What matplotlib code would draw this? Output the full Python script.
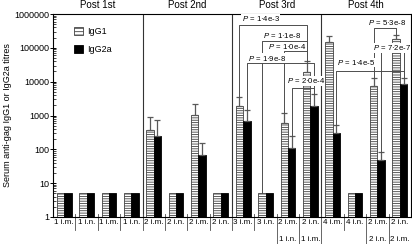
import numpy as np
import matplotlib
matplotlib.use('Agg')
import matplotlib.pyplot as plt
from matplotlib.patches import Patch
from matplotlib.transforms import blended_transform_factory

plt.rcParams['font.family'] = ['Liberation Sans', 'DejaVu Sans']
plt.rcParams['mathtext.fontset'] = 'custom'
plt.rcParams['mathtext.it'] = 'Liberation Sans:italic'
plt.rcParams['mathtext.rm'] = 'Liberation Sans'
plt.rcParams['hatch.linewidth'] = 0.6

# -------------------------------
# Data
# -------------------------------
route_top = ['1 i.m.', '1 i.n.', '1 i.m.', '1 i.n.',
             '2 i.m.', '2 i.n.', '2 i.m.', '2 i.n.',
             '3 i.m.', '3 i.n.', '2 i.m.', '2 i.n.',
             '4 i.m.', '4 i.n.', '2 i.m.', '2 i.n.']
route_bottom = ['', '', '', '', '', '', '', '',
                '', '', '1 i.n.', '1 i.m.', '', '', '2 i.n.', '2 i.m.']
sections = ['Post 1st', 'Post 2nd', 'Post 3rd', 'Post 4th']

igg1 = [5, 5, 5, 5, 375, 5, 1050, 5, 1900, 5, 590, 19500, 147000, 5, 7500, 185000]
igg1_err = [0, 0, 0, 0, 555, 0, 1100, 0, 1600, 0, 580, 22500, 78000, 0, 5100, 55000]
igg2a = [5, 5, 5, 5, 255, 5, 68, 5, 710, 5, 108, 1920, 300, 5, 48, 8600]
igg2a_err = [0, 0, 0, 0, 485, 0, 82, 0, 750, 0, 132, 2440, 230, 0, 34, 4100]

# comparisons: (group a, series a, group b, series b, P label)
comparisons = [
    (8, 'IgG1', 11, 'IgG1', '1·4e-3'),
    (9, 'IgG1', 11, 'IgG1', '1·1e-8'),
    (10, 'IgG1', 11, 'IgG1', '1·0e-4'),
    (8, 'IgG2a', 11, 'IgG2a', '1·9e-8'),
    (10, 'IgG2a', 11, 'IgG2a', '2·0e-4'),
    (14, 'IgG1', 15, 'IgG1', '5·3e-8'),
    (14, 'IgG2a', 15, 'IgG2a', '7·2e-7'),
    (12, 'IgG2a', 15, 'IgG2a', '1·4e-5'),
]
# bracket layout: (line level, text x, text level)
bracket_pos = [
    (4.8e5, 7.94, 7.2e5),
    (1.6e5, 8.88, 2.3e5),
    (8.1e4, 9.10, 1.1e5),
    (3.5e4, 8.20, 4.9e4),
    (6.6e3, 9.95, 1.05e4),
    (3.8e5, 13.56, 5.5e5),
    (7.6e4, 13.80, 1.0e5),
    (2.1e4, 12.18, 3.7e4),
]

# -------------------------------
# Figure
# -------------------------------
fig = plt.figure(figsize=(4.12, 2.44), dpi=100)
ax = fig.add_axes([53 / 412, 27 / 244, 358 / 412, 203 / 244])

n = len(igg1)
x = np.arange(n)
w = 0.33
off = {'IgG1': -w / 2, 'IgG2a': w / 2}
vals = {'IgG1': np.array(igg1), 'IgG2a': np.array(igg2a)}
errs = {'IgG1': np.array(igg1_err), 'IgG2a': np.array(igg2a_err)}

ax.bar(x + off['IgG1'], igg1, w, color='white', edgecolor='0.25',
       hatch='-------', linewidth=0.6, zorder=2)
ax.bar(x + off['IgG2a'], igg2a, w, color='black', edgecolor='black',
       linewidth=0.6, zorder=2)

for key in ['IgG1', 'IgG2a']:
    m = errs[key] > 0
    e = errs[key][m]
    ax.errorbar(x[m] + off[key], vals[key][m], yerr=[np.zeros_like(e), e],
                fmt='none', ecolor='0.35', elinewidth=0.9, capsize=2.5,
                capthick=0.9, zorder=3)

# significance brackets
for (ga, sa, gb, sb, p), (lvl, tx, ty) in zip(comparisons, bracket_pos):
    xa = ga + off[sa]
    xb = gb + off[sb]
    ya = vals[sa][ga] + errs[sa][ga]
    yb = vals[sb][gb] + errs[sb][gb]
    ax.plot([xa, xa, xb, xb], [ya, lvl, lvl, yb], color='0.3', lw=0.7,
            zorder=4)
    ax.text(tx, ty, '$P$ = ' + p, fontsize=5.6, ha='left', va='center',
            zorder=6, bbox=dict(facecolor='white', edgecolor='none', pad=0.3))

ax.set_yscale('log')
ax.set_ylim(1, 1e6)
ax.set_xlim(-0.5, n - 0.5)
ax.set_yticks([1, 10, 100, 1000, 10000, 100000, 1000000])
ax.set_yticklabels(['1', '10', '100', '1000', '10000', '100000', '1000000'])
ax.tick_params(axis='y', which='major', direction='inout', length=4,
               width=0.7, labelsize=6.5, pad=1)
ax.tick_params(axis='y', which='minor', direction='in', length=2, width=0.5)
ax.set_xticks([])
for s in ax.spines.values():
    s.set_linewidth(0.8)

# section dividers and titles
for b in [3.5, 7.5, 11.5]:
    ax.axvline(b, color='0.2', lw=0.8, zorder=1)
trans = blended_transform_factory(ax.transData, ax.transAxes)
for i, name in enumerate(sections):
    ax.text(4 * i + 1.5, 1.045, name, transform=trans, ha='center',
            va='center', fontsize=7)

# route labels under the bars
for i in range(n):
    ax.text(i, -0.027, route_top[i], transform=trans, ha='center',
            va='center', fontsize=5.8)
    if route_bottom[i]:
        ax.text(i, -0.111, route_bottom[i], transform=trans, ha='center',
                va='center', fontsize=5.8)
for b in np.arange(0.5, n - 0.5, 1.0):
    left, right = int(b - 0.5), int(b + 0.5)
    long_line = route_bottom[left] != '' or route_bottom[right] != ''
    y_end = -0.133 if long_line else -0.064
    ax.plot([b, b], [0.015, y_end], transform=trans, color='0.3', lw=0.6,
            clip_on=False)

# legend
handles = [Patch(facecolor='white', edgecolor='0.25', hatch='-----', lw=0.6),
           Patch(facecolor='black', edgecolor='black', lw=0.6)]
ax.legend(handles, ['IgG1', 'IgG2a'], loc='upper left',
          bbox_to_anchor=(0.035, 0.975), frameon=False, fontsize=6.5,
          handlelength=1.0, handleheight=1.0, labelspacing=1.0,
          handletextpad=0.5)

fig.text(8 / 412, 0.527, 'Serum anti-gag IgG1 or IgG2a titres', rotation=90,
         ha='center', va='center', fontsize=6.5)

fig.savefig('out.png', dpi=100)
